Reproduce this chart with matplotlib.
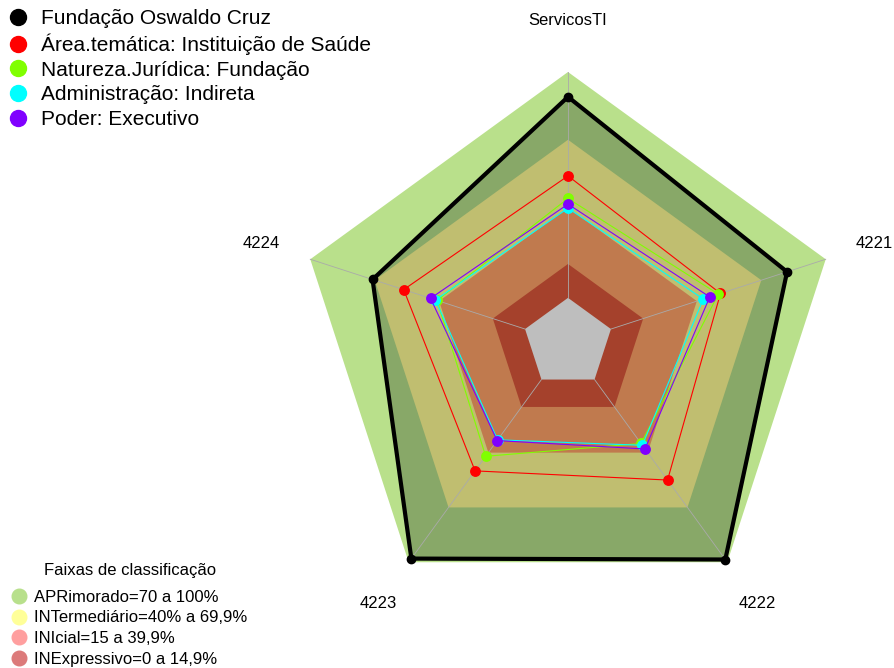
import numpy as np
import matplotlib.pyplot as plt
from matplotlib.lines import Line2D

plt.rcParams['font.family'] = ['Liberation Sans', 'DejaVu Sans']

# axes, counter-clockwise from the top (fmsb style)
eixos = ["ServicosTI", "4224", "4223", "4222", "4221"]

# series values (%)
series_nomes = ["Fundação Oswaldo Cruz",
                "Área.temática: Instituição de Saúde",
                "Natureza.Jurídica: Fundação",
                "Administração: Indireta",
                "Poder: Executivo"]
fiocruz = [89, 71, 98, 98.5, 82]
area_tematica = [54, 56.5, 50, 55, 51]
natureza = [44, 41, 42, 35, 50]
administracao = [39.7, 41.7, 33, 36, 43]
poder = [41.5, 44, 33.4, 38, 46]
series_cores = ["black", "#FF0000", "#80FF00", "#00FFFF", "#8000FF"]

# classification bands
faixas_nomes = ["APRimorado=70 a 100%", "INTermediário=40% a 69,9%",
                "INIcial=15 a 39,9%", "INExpressivo=0 a 14,9%"]
faixas_limites = [100, 70, 40, 15]
faixas_cores = ["#B9E08B", "#C0BE70", "#C07A4E", "#A5412C"]
faixas_legenda = ["#B8E08C", "#FFFF99", "#FF9F9F", "#DC7A7A"]

r0 = 1 / 6  # radius of the centre hole (min value)
n = len(eixos)
ang = np.pi / 2 + 2 * np.pi * np.arange(n) / n


def xy(vals):
    v = np.asarray(vals, dtype=float)
    r = r0 + (1 - r0) * v / 100
    x = r * np.cos(ang)
    y = r * np.sin(ang)
    return np.append(x, x[0]), np.append(y, y[0])


W, H = 894, 668
fig = plt.figure(figsize=(W / 100, H / 100), dpi=100)
ax = fig.add_axes([0, 0, 1, 1])
s = 271.0
ax.set_xlim(-568 / s, (W - 568) / s)
ax.set_ylim(-(H - 343) / s, 343 / s)
ax.axis('off')

# outer band, then the dark fill inside the Fiocruz polygon, then inner bands
x, y = xy([100] * n)
ax.fill(x, y, color=faixas_cores[0], lw=0, zorder=1)
x, y = xy(fiocruz)
ax.fill(x, y, color="#88A868", lw=0, zorder=2)
for lim, cor in zip(faixas_limites[1:], faixas_cores[1:]):
    x, y = xy([lim] * n)
    ax.fill(x, y, color=cor, lw=0, zorder=3)
x, y = xy([0] * n)
ax.fill(x, y, color="#BEBEBE", lw=0, zorder=3)

# radial axis lines
for a in ang:
    ax.plot([r0 * np.cos(a), np.cos(a)], [r0 * np.sin(a), np.sin(a)],
            color="#AAAAAA", lw=0.6, zorder=4)

# data series
dados = [fiocruz, area_tematica, natureza, administracao, poder]
for i, (vals, cor) in enumerate(zip(dados, series_cores)):
    x, y = xy(vals)
    lw = 3 if i == 0 else 0.8
    ms = 6 if i == 0 else 6.8
    ax.plot(x, y, color=cor, lw=lw, zorder=5 + i)
    ax.plot(x[:-1], y[:-1], 'o', color=cor, ms=ms, zorder=5 + i)

# axis labels
for a, lab in zip(ang, eixos):
    ax.text(1.19 * np.cos(a), 1.19 * np.sin(a), lab, ha='center', va='center',
            fontsize=12)

# series legend
h1 = [Line2D([], [], marker='o', ls='', color=c, ms=11.5) for c in series_cores]
fig.legend(h1, series_nomes, loc='upper left', bbox_to_anchor=(8 / W, 1 - 9 / H),
           frameon=False, fontsize=15, handlelength=1.0, handletextpad=0.6,
           labelspacing=0.27, borderpad=0, borderaxespad=0)

# bands legend
h2 = [Line2D([], [], marker='o', ls='', color=c, ms=10.5) for c in faixas_legenda]
fig.legend(h2, faixas_nomes, loc='lower left', bbox_to_anchor=(12 / W, 1 / H),
           frameon=False, fontsize=12, handlelength=0.8, handletextpad=0.5,
           labelspacing=0.35, borderpad=0, borderaxespad=0)
fig.text(130 / W, 1 - 571 / H, "Faixas de classificação", ha='center',
         va='center', fontsize=12)

fig.savefig("out.png", dpi=100)
